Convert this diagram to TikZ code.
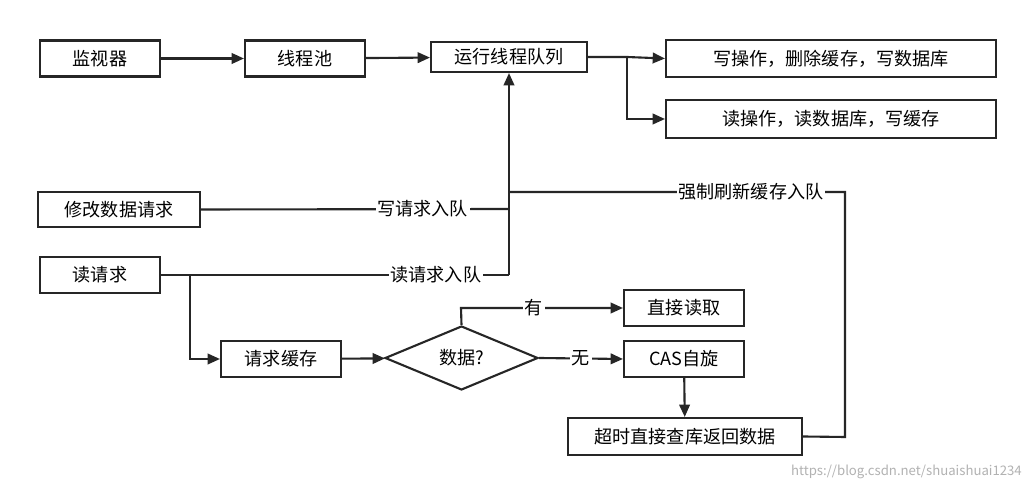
\documentclass[tikz,border=0pt]{standalone}
\usepackage{fontspec}
\setmainfont{Noto Sans CJK SC}
\usetikzlibrary{arrows.meta,shapes.geometric}
\begin{document}
\begin{tikzpicture}[x=0.02cm,y=-0.02cm,
  box/.style={draw=black!85,line width=1.2pt,minimum height=0.72cm,inner sep=0pt,font=\fontsize{10.3}{12}\selectfont},
  ln/.style={draw=black!85,line width=1.2pt},
  ar/.style={ln,-{Triangle[length=7pt,width=6pt]}},
  lb/.style={fill=white,inner sep=1pt,font=\fontsize{10.3}{12}\selectfont}]
\useasboundingbox[fill=white] (0,0) rectangle (1032,492);
\node[box,minimum width=2.4cm] (jsq) at (100,58.5) {监视器};
\node[box,minimum width=2.4cm] (xcc) at (305,58.5) {线程池};
\node[box,minimum width=3.12cm,minimum height=0.6cm] (yx) at (509,57) {运行线程队列};
\node[box,minimum width=6.6cm,minimum height=0.74cm] (xcz) at (831,58.5) {写操作，删除缓存，写数据库};
\node[box,minimum width=6.6cm,minimum height=0.76cm] (dcz) at (831,119) {读操作，读数据库，写缓存};
\node[box,minimum width=3.24cm,minimum height=0.7cm] (xg) at (119,209.5) {修改数据请求};
\node[box,minimum width=2.4cm] (dqq) at (100,275) {读请求};
\node[box,minimum width=2.4cm] (qhc) at (281,359) {请求缓存};
\node[draw=black!85,line width=1.2pt,diamond,aspect=2.4,minimum width=3.06cm,minimum height=1.28cm,inner sep=0pt,font=\fontsize{10.3}{12}\selectfont] (sj) at (461.5,358) {数据?};
\node[box,minimum width=2.4cm] (zj) at (684,308) {直接读取};
\node[box,minimum width=2.4cm] (cas) at (684,359) {CAS自旋};
\node[box,minimum width=4.68cm,minimum height=0.74cm] (cs) at (685,436.5) {超时直接查库返回数据};
\coordinate (j1) at (627,57);
\coordinate (m) at (509,209);
\coordinate (r) at (509,275);
\coordinate (f) at (509,192);
\coordinate (c1) at (845,437);
\coordinate (c2) at (845,192);
\coordinate (b1) at (190,275);
\coordinate (b2) at (190,359);
\coordinate (t1) at (461,308);
\draw[ar] (jsq) -- (xcc);
\draw[ar] (xcc) -- (yx);
\draw[ar] (yx.east) -- (j1) -- (xcz.west);
\draw[ar] (j1) |- (dcz.west);
\draw[ln] (xg.east) -- node[lb,pos=0.72]{写请求入队} (m);
\draw[ar] (r) -- (yx.south);
\draw[ln] (dqq.east) -- node[lb,pos=0.79]{读请求入队} (r);
\draw[ln] (cs.east) -- (c1) -- (c2) -- node[lb,pos=0.28]{强制刷新缓存入队} (f);
\draw[ar] (b1) -- (b2) -- (qhc.west);
\draw[ar] (qhc) -- (sj);
\draw[ar] (sj.north) -- (t1) -- node[lb,pos=0.45]{有} (zj.west);
\draw[ar] (sj.east) -- node[lb,pos=0.5]{无} (cas.west);
\draw[ar] (cas) -- (cs);
\node[text=black!30,font=\fontsize{7.5}{9}\selectfont,anchor=east] (wm) at (1028,472) {https://blog.csdn.net/shuaishuai1234};
\end{tikzpicture}
\end{document}
